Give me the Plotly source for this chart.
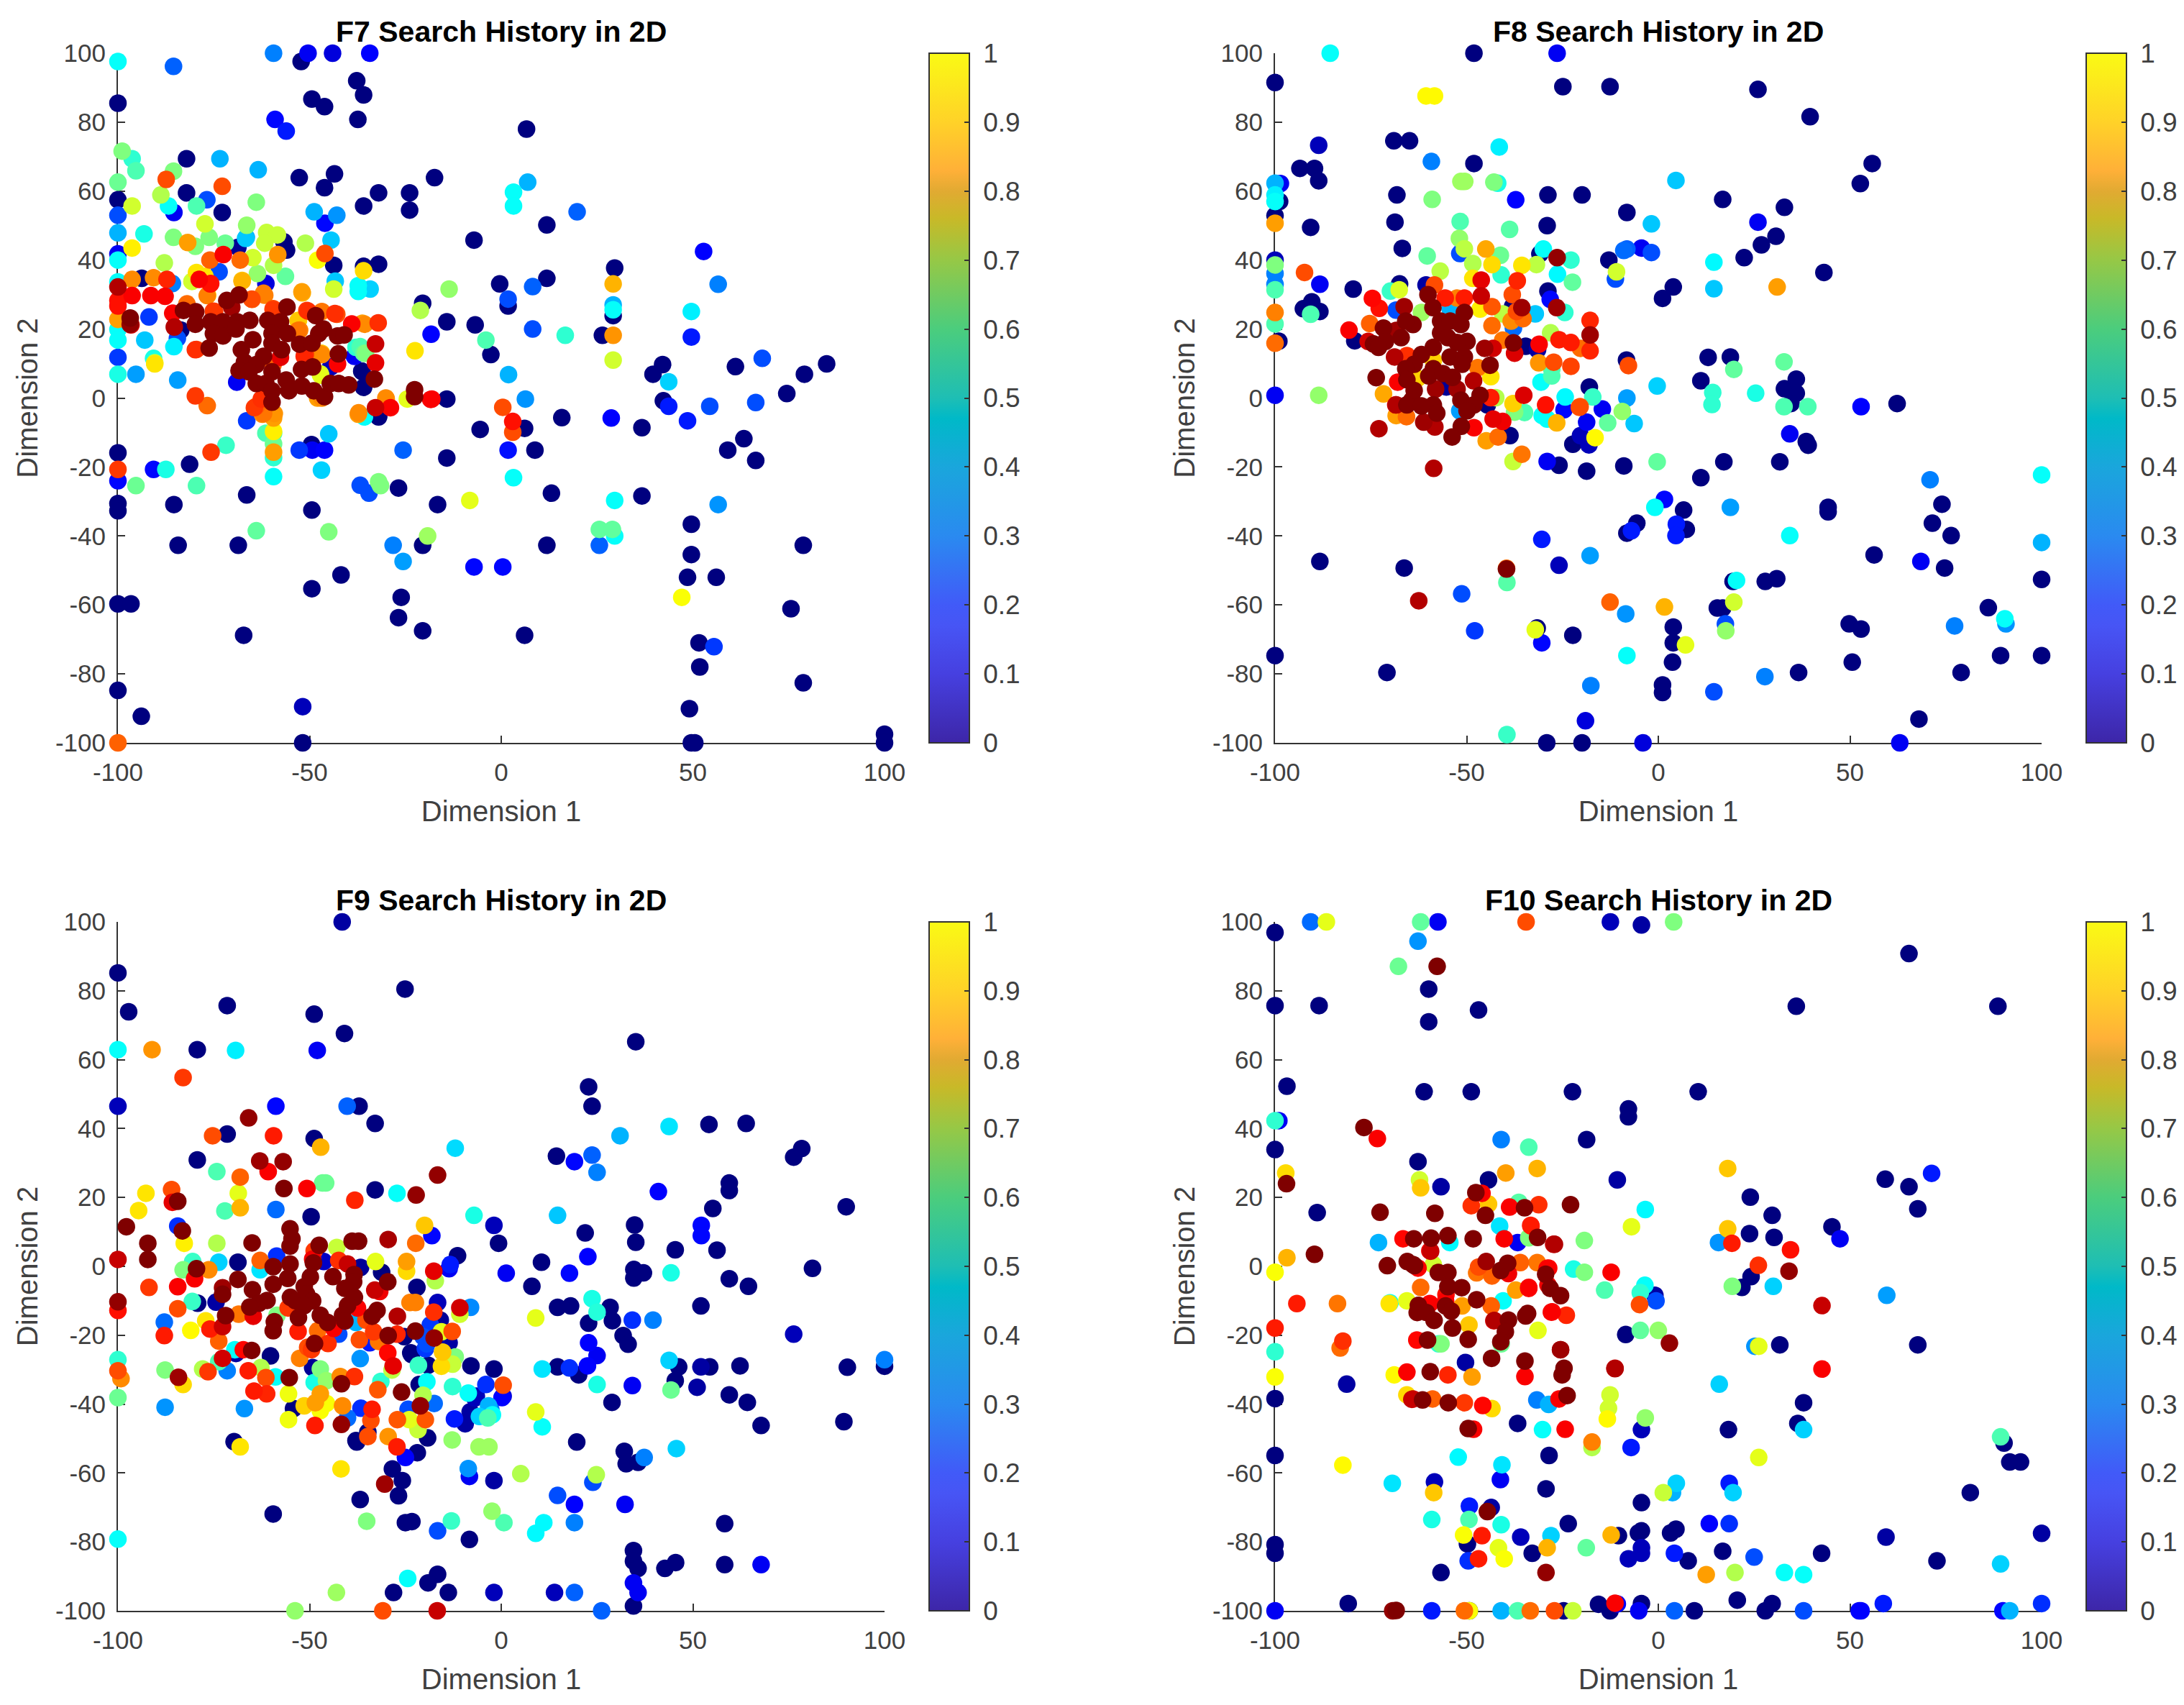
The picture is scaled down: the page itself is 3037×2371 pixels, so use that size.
import plotly.graph_objects as go

W = 3037
H = 2371

# (dimension 1, dimension 2, colour value)
F7_POINTS = [
(-52.2,97.6,0),(-37.7,92,0),(-49.4,86.7,0),(-46.1,84.5,0),(-35.9,87.9,0),(-37.4,80.8,0),(-100,85.5,0),(6.6,78,0),(-82.1,69.4,0),(-52.7,63.9,0),
(-43.5,65,0),(-17.4,63.9,0),(-46.1,61,0),(-82.1,59.5,0),(-100,57.5,0),(-32,59.5,0),(-23.9,59.5,0),(-35.9,55.7,0),(-23.9,54.5,0),(-72.8,53.8,0),
(11.9,50.2,0),(-7.1,45.8,0),(-43.7,38.5,0),(-32,38.8,0),(29.6,37.7,0),(-0.4,33.1,0),(11.9,34.7,0),(1.8,26.7,0),(-20.5,27.5,0),(-14.2,22.1,0),
(-6.8,21.2,0),(26.4,18.2,0),(29.2,23.9,0),(-2.7,12.6,0),(42.1,9.7,0),(39.6,6.9,0),(61.1,9.1,0),(84.9,9.9,0),(79.1,6.9,0),(74.5,1.3,0),
(-35.9,3.1,0),(-36.3,7.7,0),(-14.2,-0.3,0),(42.3,-0.8,0),(15.8,-5.7,0),(-5.5,-9.1,0),(6.1,-8.8,0),(36.7,-8.6,0),(-32,-5.5,0),(59.1,-15.1,0),
(63.3,-11.8,0),(66.4,-18.1,0),(8.8,-15.1,0),(-14.2,-17.4,0),(-100,-15.9,0),(-81.3,-19.2,0),(-26.8,-26.1,0),(13.1,-27.6,0),(-66.4,-28.1,0),(36.7,-28.4,0),
(-85.4,-30.9,0),(-16.6,-30.9,0),(-100,-30.6,0),(-100,-32.7,0),(-49.4,-32.5,0),(49.6,-36.6,0),(-84.3,-42.7,0),(-68.6,-42.7,0),(-20.5,-42.7,0),(11.9,-42.7,0),
(78.8,-42.7,0),(49.6,-45.4,0),(48.6,-52,0),(56.1,-52,0),(-41.8,-51.3,0),(-49.4,-55.3,0),(-26.1,-57.8,0),(-100,-59.7,0),(-96.6,-59.7,0),(75.6,-61.1,0),
(-26.8,-63.7,0),(-20.5,-67.5,0),(-67.2,-68.8,0),(6.1,-68.8,0),(51.6,-71,0),(51.8,-78,0),(78.8,-82.6,0),(-100,-84.8,0),(-93.9,-92.3,0),(49.1,-90.1,0),
(-51.8,-89.5,0.05),(49.6,-100,0),(50.5,-100,0),(-51.8,-100,0),(100,-97.5,0),(100,-100,0),(-56,42.9,0),(-56.7,45.3,0),(-68.7,43.7,0.02),(-35.9,38.2,0),
(-93.8,34.7,0),(-83.6,19.7,0),(-32,-5.2,0),(-36.4,7.8,0),(-44.5,9,0.05),(-49.5,-13.5,0),(-100,41.8,0.1),
(-50.4,100,0.1),(-44,100,0.08),(-34.3,100,0.12),(-59.4,100,0.25),(-85.5,96.2,0.22),(-59,80.8,0.13),(-56.1,77.4,0.15),(-76.8,57.5,0.2),(-85.4,53.8,0.1),(-100,53,0.2),
(19.8,54,0.22),(-46,50.7,0.13),(-42.9,53,0.27),(52.8,42.5,0.12),(56.6,33,0.25),(8.2,32.3,0.22),(1.8,28.7,0.2),(8.2,20,0.2),(-18.3,18.5,0.12),(-91.9,23.5,0.18),
(49.6,17.7,0.15),(-100,11.8,0.18),(68.1,11.5,0.2),(-95.3,6.9,0.28),(-84.4,5.2,0.28),(1.9,6.8,0.3),(-69,4.6,0.1),(6.3,-0.3,0.27),(43.7,-2.4,0.15),(54.4,-2.4,0.2),
(66.4,-1.3,0.2),(48.6,-6.6,0.15),(28.7,-5.8,0.12),(-66.4,-6.6,0.18),(-52.7,-15.1,0.18),(-49.3,-15.1,0.1),(-46.1,-15.1,0.12),(-25.6,-15.1,0.22),(1.8,-15.1,0.14),(-90.7,-20.7,0.13),
(-100,-24,0.13),(-36.8,-25.3,0.2),(-34.5,-27.6,0.2),(-28.2,-42.7,0.25),(25.6,-42.7,0.22),(-25.6,-47.4,0.28),(-7.1,-49,0.13),(0.4,-49,0.13),(55.5,-72.1,0.18),(56.6,-30.9,0.27),
(-85.8,33.2,0.25),(-73.6,36.6,0.2),(-61.4,33.2,0.08),(-66.7,46.3,0.32),(-84.5,17.3,0.2),(-38.3,12.1,0.1),
(-100,97.6,0.38),(-100,47.9,0.3),(-93.2,47.6,0.4),(-96.3,69.4,0.42),(-73.4,69.4,0.3),(-63.4,66.2,0.3),(3.2,59.7,0.38),(3.2,55.7,0.38),(6.9,62.6,0.3),(-48.8,54,0.3),
(-86.8,55.7,0.38),(-44.4,45.8,0.32),(-66.5,46.6,0.3),(-100,40,0.38),(-100,33.7,0.38),(-34.2,31.6,0.33),(-37.3,32.6,0.38),(-37.3,30.9,0.38),(-43.3,33.9,0.32),(29.2,27,0.3),
(29.2,25.6,0.38),(49.6,25.1,0.36),(-93,16.8,0.32),(-100,19.9,0.38),(-100,16.8,0.38),(-85.4,14.9,0.36),(-100,6.9,0.4),(43.7,4.7,0.33),(16.7,18.2,0.42),(-45,-10.4,0.32),
(-46.9,-20.9,0.33),(-59.4,-22.8,0.38),(3.2,-23.1,0.38),(29.6,-29.7,0.38),(29.6,-40,0.38),(-71.8,-13.7,0.43),(-87.5,-20.7,0.4),(-35.7,-5.5,0.38),(-90.7,11.5,0.4),
(-98.9,71.6,0.5),(-95.3,65.9,0.45),(-100,62.6,0.48),(-85.5,65.8,0.5),(-88.8,58.9,0.55),(-96.3,55.7,0.58),(-79.5,55.7,0.45),(-63.9,56.8,0.5),(-77.3,50.5,0.58),(-66.4,50.1,0.52),
(-85.5,46.6,0.5),(-76.2,46.6,0.5),(-79.8,44,0.5),(-72,44.9,0.48),(-87.9,39.2,0.55),(-64.8,40.7,0.58),(-51.1,44.9,0.55),(-61.2,48,0.57),(-58.4,47.3,0.57),(-61.7,44.9,0.57),
(-63.6,36.1,0.52),(-59.4,38.5,0.55),(-56.3,35.3,0.47),(-80.7,33.8,0.58),(-43.7,31.6,0.58),(-21.1,25.4,0.55),(-13.6,31.6,0.52),(-4,16.8,0.45),(-36.8,14.9,0.45),(-35.4,13,0.5),
(-47.2,7,0.58),(-90.4,10.2,0.58),(29.2,11,0.58),(-24.5,-0.3,0.6),(-59.4,-10.2,0.45),(-61.4,-10.2,0.45),(-59.4,-13.3,0.48),(-59.4,-17.3,0.42),(-32,-24.3,0.5),(-31.5,-25.4,0.5),
(-79.5,-25.4,0.45),(-95.3,-25.4,0.48),(-8.2,-29.7,0.6),(-63.9,-38.5,0.47),(-45,-38.8,0.5),(25.6,-38.1,0.47),(29,-38.1,0.47),(-19.2,-40,0.53),(-35.9,13,0.47),(-37.9,14.7,0.42),
(-47.1,6.6,0.6),(-52.9,22.5,0.65),
(-96.3,43.5,0.64),(-47.9,40,0.62),(-35.9,36.9,0.66),(-77.3,35.3,0.65),(-79.5,36.4,0.65),(-67.6,34.1,0.68),(29.2,33.1,0.7),(-51.9,30.5,0.7),(-76.6,29.8,0.66),(-90.4,9.9,0.65),
(-22.5,13.7,0.65),(47.1,-57.8,0.62),(-59.4,-9.7,0.64),(-59.4,-5.8,0.72),(-46.9,13,0.68),(-53,22.4,0.68),(-59.4,-15.7,0.72),(-37.3,-4.7,0.72),
(-100,22.8,0.72),(-96.3,34.4,0.74),(-90.7,34.9,0.74),(-81.8,45.1,0.72),(-87.4,63.4,0.8),(-72.8,61.4,0.8),(-76,40,0.78),(-68.1,40,0.77),(-58.3,41.6,0.73),(-46,41.9,0.8),
(-61.7,29.8,0.75),(-65,28.6,0.78),(-79.5,14.1,0.8),(-79.8,0.6,0.82),(-76.7,-2.2,0.77),(-63.9,-2.4,0.78),(-62.3,-4.7,0.74),(-30,-0.3,0.73),(-46.8,0,0.74),(-36.2,21.7,0.72),
(0.4,-2.7,0.8),(3,-9.9,0.8),(29.2,18.2,0.73),(-100,-100,0.78),(-46.8,25.1,0.76),(-42.9,24.3,0.8),(-59.5,25.9,0.8),(-74.8,25.1,0.82),(-50.7,25.4,0.82),(-53,19.6,0.76),
(-51.1,12.6,0.82),(-46.8,12.6,0.74),(-32.1,21.8,0.83),(-43.4,24.5,0.83),(-50.4,25.2,0.83),(-59.5,25.6,0.82),(-35.6,21.4,0.74),(-79.8,14,0.83),(-65.1,28.7,0.8),(-62,30.4,0.75),
(-52,30.8,0.72),(-67.6,33.9,0.7),(-76.7,29.7,0.75),(-82,27.3,0.77),(-75.1,25.2,0.82),(-52.6,19.7,0.75),(-47.3,12.8,0.73),(-51.4,12.1,0.84),(-59.5,9.7,0.78),(-64.4,-2.8,0.82),
(-62,-4.5,0.76),(-59.2,-4.5,0.73),(-62.6,-0.3,0.83),(-47.9,0,0.72),(-37.2,-4.3,0.74),(-30.1,0,0.74),
(-87.2,34.4,0.84),(-75.9,33.1,0.86),(-100,28.3,0.86),(-100,26.7,0.86),(-96.3,29.7,0.88),(-91.4,29.7,0.88),(-87.7,29.5,0.88),(-78.8,34.4,0.88),(-72.5,41.6,0.88),(-100,-20.7,0.82),
(-75.7,-15.7,0.82),(-39,21.5,0.88),(-18.1,-0.3,0.88),(-28.9,-2.8,0.88),(3,-6.8,0.86),(-32.8,10.2,0.9),(-42.7,9.9,0.88),(-85.7,24.6,0.88),(-96.6,21.2,0.92),(-100,32.2,0.95),
(-57.6,11.8,0.9),(-75.8,33.2,0.85),(-18.4,-0.4,0.88),
(-71.6,28.3,1),(-68.4,29.9,1),(-70.3,26.3,0.97),(-55.9,26.4,1),(-48.4,23.9,1),(-82.9,25.4,1),(-79.7,25,1),(-79.8,21.4,1),(-85.3,20.6,0.95),(-96.8,23.2,1),
(-96.8,21.4,0.98),(-75.8,22.1,1),(-72.6,22.1,1),(-68.9,22.1,1),(-65.6,22.5,1),(-60.9,22.5,1),(-57.6,22.1,1),(-75.1,18.7,1),(-72.6,18,1),(-69.2,20,1),
(-76.2,14.5,1),(-64.8,16.9,1),(-59.8,18.7,1),(-55.8,18.7,1),(-67.8,14,1),(-59.8,15.9,1),(-57.3,14,1),(-52.6,15.6,1),(-49.4,15.9,1),(-47.6,18.7,1),
(-46.4,20,1),(-42.7,18,1),(-41,18.3,1),(-42.5,12.8,1),(-32.8,15.7,0.93),(-62,12.1,1),(-67,10.4,1),(-63.9,9.7,1),(-68.4,8,1),(-65.8,7.6,1),
(-63.9,4.2,1),(-61.4,4.2,1),(-59.8,7.6,1),(-59.8,2.1,1),(-52.1,8.3,1),(-49.2,9,1),(-56.1,5.2,1),(-55.4,2.1,1),(-52,3.5,1),(-48.9,2.1,1),
(-46.1,0.4,1),(-44.6,4.2,1),(-42.4,4.2,1),(-39.8,3.8,1),(-59.8,-1.2,1),(-33.1,5.5,1),(-22.6,2.4,1),(-22.6,0.4,1),(-32.8,-2.8,0.93),
]

F8_POINTS = [
(-48.1,100,0),(-100,91.5,0),(-24.9,90.3,0),(-12.6,90.3,0),(26,89.5,0),(39.6,81.6,0),(-88.6,73.3,0.05),(-69,74.6,0),(-64.9,74.6,0),(-48.1,68,0),
(55.8,68,0),(-93.5,66.6,0),(-89.7,66.6,0),(-88.6,63,0),(52.7,62.2,0),(-98.6,62.2,0.1),(-68.2,58.9,0),(-28.8,58.9,0),(-19.9,58.9,0),(16.8,57.6,0),
(-98.8,57,0),(32.9,55.3,0),(-8.2,53.8,0),(-100,52.9,0),(-90.7,49.5,0),(26,51,0.1),(30.7,46.9,0),(26.9,44.4,0),(22.4,40.7,0),(-100,40,0.05),
(43.2,36.4,0),(1.1,28.9,0),(3.9,32.2,0),(-88.3,33,0.1),(-90.4,27.9,0),(-88.3,25.1,0),(-92.6,25.9,0),(-99,16.5,0),(13,11.8,0),(18.8,11.9,0),
(11.1,5,0),(36,5.5,0),(32.9,2.7,0),(36,1.4,0),(62.3,-1.6,0),(-8.3,11,0),(34.6,-1.6,0),(38.6,-12.6,0),(39.1,-13.7,0),(17.1,-18.5,0),
(31.7,-18.5,0),(11.1,-23.1,0),(74,-30.8,0),(44.3,-31.7,0),(44.3,-33,0),(6.6,-32.5,0),(-5.6,-36.3,0),(71.5,-36.3,0),(7.3,-38.1,0),(-8.2,-39.2,0),
(76.4,-39.9,0),(56.3,-45.5,0),(-88.3,-47.4,0),(-66.3,-49.3,0),(-25.9,-48.5,0.05),(74.7,-49.3,0),(100,-52.6,0),(19.5,-53.2,0),(27.9,-53.2,0),(30.9,-52.4,0),
(15.4,-60.9,0),(16.8,-60.9,0),(86.1,-60.8,0),(49.8,-65.5,0),(52.9,-67,0),(3.9,-66.4,0),(-31.6,-66.7,0),(-22.3,-68.8,0),(3.9,-71,0),(-100,-74.7,0),
(50.6,-76.6,0),(3.7,-76.6,0),(89.3,-74.7,0),(100,-74.7,0),(-70.8,-79.6,0),(36.6,-79.6,0),(79,-79.6,0),(1.1,-83.2,0),(1.1,-85.4,0),(68,-93.1,0),
(-19,-93.6,0.08),(-29.1,-100,0),(-19.9,-100,0),(-4,-100,0.08),(63,-100,0.1),(68.5,-47.4,0.1),
(-68.7,51,0),(-29,50,0),(-66.8,43.4,0),(-79.6,31.6,0),(-79.2,16.6,0),(-67.5,33.1,0),(-60.6,32.8,0.03),(-34.6,15,0),(-31.5,14,0.03),(-28.8,31,0),
(-12.9,40,0),(-18,3.2,0),(-38.7,-10.9,0),(-22.3,-13.4,0),(-20.3,-10.9,0.05),(-18.1,-13.6,0.05),(-25.9,-19.5,0),(-18.7,-21.2,0),(-9,-19.7,0),(-44.6,-2,0),
(-30.9,41.8,0),(-38,26.6,0),(-55.3,3.2,0.02),
(-26.4,100,0.1),(-37.2,57.5,0.12),(-8.2,43.2,0.22),(-4.4,43.5,0.1),(-1.8,42.2,0.2),(-100,33,0.25),(-100,36.1,0.25),(-100,0.8,0.1),(34.3,-10.4,0.1),(52.9,-2.5,0.12),
(1.6,-29.4,0.13),(4.7,-36.6,0.15),(4.6,-39.9,0.15),(-7,-38.5,0.15),(-30.4,-41,0.15),(18.8,-31.7,0.28),(100,-41.9,0.3),(70.9,-23.7,0.25),(-17.8,-45.7,0.28),(-51.3,-56.8,0.2),
(-8.5,-62.6,0.27),(-47.9,-67.5,0.18),(-30.4,-71,0.13),(17.5,-65.5,0.2),(77.3,-66.1,0.25),(90.7,-65.5,0.27),(27.8,-80.8,0.25),(-17.6,-83.4,0.25),(14.5,-85.2,0.2),(-59.2,68.6,0.25),
(-51.8,41.9,0.2),(-28.2,28.6,0.13),(-68.4,25.5,0.2),(-37.8,20.3,0.23),(-11.2,34.5,0.2),(-9,42.8,0.23),(-24.6,-3.4,0.13),(-14.6,-3.2,0.1),(-18.7,-7,0.1),(-51.8,-3.7,0.28),
(-29,-18.4,0.1),(-8.2,0,0.28),(-32.1,24.4,0.32),(-54.3,25.8,0.3),
(-85.6,100,0.38),(-100,62.3,0.3),(-100,58.9,0.36),(-100,57,0.38),(-41.5,72.8,0.36),(4.6,63.1,0.32),(-1.8,50.5,0.32),(-41.9,62.3,0.4),(14.5,39.4,0.37),(14.5,31.7,0.32),
(-0.3,3.5,0.33),(14.2,1.6,0.42),(14,-1.9,0.42),(25.4,1.4,0.4),(32.8,-2.5,0.45),(39,-2.5,0.45),(-6.3,-7.4,0.32),(100,-22.3,0.38),(-0.9,-31.7,0.38),(34.3,-39.9,0.38),
(20.4,-52.9,0.38),(90.4,-64,0.38),(-8.2,-74.7,0.38),(-30,43.2,0.38),(-41,35.7,0.42),(-26.3,35.9,0.37),(-22.8,40,0.42),(-24.4,24.8,0.42),(-69.9,31,0.43),(-30.6,4.6,0.38),
(-24.3,0.3,0.37),(-17.1,0.3,0.43),(-30.3,-5.1,0.38),(-29,-6.1,0.38),
(-51.5,62.8,0.53),(-50.5,62.8,0.53),(-42.9,62.6,0.5),(-59,57.6,0.5),(-100,38.6,0.5),(-100,31.4,0.45),(-100,21.5,0.45),(-90.7,24.3,0.45),(32.8,10.5,0.47),(19.7,8.3,0.47),
(-88.6,0.8,0.52),(-39.5,-53.5,0.46),(-39.5,-97.6,0.43),(19.7,-59.2,0.58),(17.6,-67.5,0.52),(-32.1,-67.2,0.6),(7.1,-71.6,0.6),(-0.3,-18.5,0.47),(-9.4,-3.9,0.52),(-13.2,-7.2,0.47),
(-60.3,41.2,0.47),(-56.9,36.8,0.56),(-48.4,39,0.55),(-50.6,43.3,0.56),(-51.9,46.3,0.52),(-51.7,51.2,0.45),(-38.8,48.9,0.46),(-41.2,41.4,0.48),(-31.8,38.7,0.56),(-40.6,24.4,0.56),
(-61.8,24.8,0.53),(-22.4,33.6,0.47),(-10.9,36.6,0.58),(-28.1,18.9,0.55),(-27.8,8.4,0.45),(-27.8,6.4,0.45),(-37.5,-4.1,0.5),(-34.9,-4.2,0.45),(-37.9,-18.4,0.57),(-42.4,0.1,0.55),
(-60.6,87.6,0.63),(-58.4,87.6,0.63),(-100,50.7,0.72),(31,32.2,0.72),(-100,24.8,0.75),(-100,15.9,0.77),(1.6,-60.6,0.7),(-67.6,31.4,0.59),
(-43.4,38.7,0.66),(-35.6,38.5,0.65),(-48.4,34.7,0.65),(-46.5,25.8,0.64),(-43.7,6.2,0.65),(-16.5,-11.5,0.63),(-58.7,10.9,0.67),(-62.8,5.7,0.67),
(-92.3,36.4,0.8),(-7.8,9.4,0.8),(-20.6,-2.7,0.8),(-12.6,-59.2,0.78),(-39.6,-49.4,0.77),
(-75.3,21.6,0.78),(-58.4,32.8,0.8),(-52.5,29,0.75),(-43.4,26.5,0.79),(-43.4,21,0.77),(-38.1,30,0.8),(-37,25.1,0.8),(-38.4,22.3,0.74),(-35.3,23,0.77),(-31.2,10.2,0.73),
(-27.3,10.4,0.8),(-22.8,9.2,0.81),(-20.3,14.4,0.77),(-40.6,16.8,0.76),(-47.1,8.8,0.76),(-65.6,12.3,0.83),(-20.4,-2.5,0.79),(-41.8,-11.3,0.77),(-35.6,-16.3,0.76),(-44.9,-12.4,0.72),
(-68.4,-5.1,0.72),(-65.7,-5.4,0.77),(-45,43.2,0.71),(-71.7,1.2,0.71),(-37.9,-1.6,0.67),(-26.5,-7.2,0.7),
(-80.7,19.7,0.88),(-75.7,16.4,0.92),(-74.6,28.9,0.87),(-72.8,26,0.86),(-46.2,34.2,0.9),(-46.2,29.6,0.93),(-36.8,34,0.84),(-50.6,29,0.85),(-55.6,29,0.85),(-31.1,15.6,0.88),
(-25.9,16.9,0.85),(-22.8,16.1,0.85),(-17.8,22.5,0.84),(-17.8,13.7,0.84),(-37.5,13,0.91),(-43.1,14.4,0.92),(-35.1,0.8,0.91),(-29.4,-2,0.86),(-43.1,-6.1,0.9),(-40.6,-6.8,0.89),
(-48.1,-8.6,0.88),(-43.7,0.1,0.85),(-68,4.6,0.88),(-68.5,-2,0.9),
(-26.4,40.7,0.98),(-35.6,26.2,0.97),(-26.5,26.2,0.97),(-17.8,18.3,0.97),(-60.1,30,1),(-58.8,26.2,1),(-66.3,26.5,0.97),(-50.6,24.8,1),(-56.8,22.3,1),(-54.3,22.3,1),
(-51.5,21.3,1),(-64,21.3,1),(-65.9,22.3,1),(-71.7,20.3,1),(-68.4,19.6,0.97),(-67.1,17.5,1),(-71.2,16.4,1),(-74.3,15.7,1),(-73,14.7,1),(-56.8,18.9,1),
(-54.9,17.5,1),(-49.9,16.4,1),(-52.5,16.1,1),(-58.7,14.7,1),(-61.8,12.6,1),(-54.3,11.9,1),(-50.6,11.9,1),(-51.2,9.8,1),(-63.7,9.8,1),(-65.9,8.5,1),
(-68.8,11.9,0.95),(-45.3,14.4,0.97),(-37.8,16,1),(-43.9,9.5,1),(-58.7,8.5,1),(-59.9,6.4,1),(-56.2,7.1,1),(-53.7,6,1),(-65.6,5.3,1),(-73.6,5.9,1),
(-48.2,5,0.95),(-52.5,2.6,0.97),(-58.1,2.6,0.97),(-63.7,2.2,1),(-46.5,0.8,1),(-51.5,-0.6,1),(-48.1,-2,1),(-49.9,-3.7,1),(-64.3,-0.6,1),(-65.6,-2,1),
(-68.4,-2,0.95),(-61.8,-2.3,1),(-58.7,-2,1),(-57.8,-4.4,1),(-61.2,-7,0.97),(-58.3,-8.4,0.95),(-51.4,-8.2,1),(-53.8,-11.3,1),(-72.9,-8.9,0.95),(-58.6,-20.4,0.95),
(-39.6,-49.6,1),(-62.5,-58.8,0.95),
]

F9_POINTS = [
(-41.5,100,0.03),(-100,85.2,0),(-97.2,73.9,0),(-71.5,75.7,0),(-25.1,80.5,0),(-48.8,73.2,0),(-40.9,67.6,0),(-79.3,62.9,0),(35.1,65.2,0),(-100,46.5,0.05),
(-37.1,46.5,0),(22.8,52.1,0),(23.7,46.5,0),(-32.9,41.5,0),(54.2,41.2,0),(63.9,41.5,0),(-71.5,38.4,0),(-48.8,37.1,0),(-79.3,30.9,0),(14.4,32,0),
(76.3,31.7,0),(78.4,34.2,0),(59.5,24.2,0),(59.5,22,0),(55.2,16.8,0),(90,17.3,0),(-32.9,22.2,0),(-49.6,14.4,0),(-1.9,11.9,0.05),(-0.7,6.7,0),
(34.8,12,0),(35.1,7,0),(21.9,9.7,0),(45.4,4.8,0),(56.3,4.7,0),(10.5,1.2,0),(-11.4,3.1,0),(-68.7,1.2,0),(81.2,-0.6,0),(34.6,-0.9,0),
(34.6,-3.4,0),(37.1,-1.9,0),(59.5,-3.6,0),(64.5,-5.8,0),(8,-5.8,0),(-22,-6.1,0),(52.1,-11.5,0),(14.7,-11.9,0),(18.1,-11.5,0),(28.4,-11.9,0),
(29,-15.8,0),(22.8,-16.5,0),(-16.6,-10.5,0.05),(31.8,-20.1,0),(33.1,-22.6,0),(76.3,-19.7,0.05),(-23.4,-25.6,0),(14.7,-29.2,0),(20.2,-31.5,0),(-7.9,-28.9,0),
(-1.9,-29.8,0),(46.3,-29.2,0),(52.1,-29.2,0.03),(54.4,-29.2,0),(62.3,-28.9,0),(90.3,-29.3,0),(100,-29,0),(45.4,-33.2,0),(51.1,-35.1,0.03),(59.5,-37.3,0),
(64.2,-39.5,0),(28.9,-39.5,0),(-6.9,-38.2,0.05),(-54.2,-41.3,0),(-60.2,-26,0),(89.4,-45.1,0),(67.8,-46.2,0),(19.7,-51,0),(32.1,-53.7,0),(32.6,-57.3,0),
(35.7,-56.9,0),(-21.9,-54.1,0),(-19.2,-49.8,0),(-37.7,-51,0),(-69.7,-50.9,0),(-28.4,-58.8,0),(-25.8,-62.2,0),(-36.8,-67.7,0),(-26.8,-66.6,0),(-59.5,-71.9,0),
(58.3,-74.7,0),(-25,-74.4,0),(-23.3,-74.1,0),(-8.3,-79.3,0),(34.5,-82.5,0),(34.5,-85.6,0),(35.7,-87.7,0),(42.7,-87.7,0),(45.5,-86,0),(58.3,-86.6,0),
(-16.6,-89.4,0),(-19.1,-91.9,0),(-28.1,-94.7,0),(-13.8,-94.7,0),(-1.9,-94.7,0.05),(13.9,-94.7,0.05),(34.5,-98.6,0),(-1.9,-62.2,0.03),
(-79.2,-10.7,0),(-74.4,-10.4,0.03),(-46.3,1.4,0.06),(-36.7,-0.3,0.02),(-31.2,-1.7,0),(-15.9,-15.6,0.02),(-25.3,-20.4,0),(-23.6,-25.1,0),(-19.1,-28.7,0),(-13.6,-22.2,0.03),
(-49.2,-29.4,0.02),(-69.2,-25.3,0.03),(-21.4,-34.3,0),(-37.9,-50.6,0),(-34.8,-48.1,0),(-8.1,-42.2,0.03),(-9.4,-45.7,0.03),(-6.5,-37.7,0.05),
(-48,62.7,0.1),(-58.8,46.5,0.13),(-40.2,46.5,0.22),(19.1,30.4,0.13),(23.7,32.3,0.22),(25,27.3,0.25),(41,21.7,0.12),(-58.8,16.5,0.23),(-84.4,11.7,0.17),(-18.1,8.9,0.13),
(52.2,11.9,0.13),(52.2,8.9,0.13),(22.6,2.8,0.12),(1.3,-2,0.1),(17.8,-2,0.13),(-13.3,0.5,0.15),(-13.6,-0.7,0.1),(-58.6,3,0.17),(34.2,-15.6,0.17),(39.6,-15.6,0.25),
(-8,-11.9,0.26),(25,-25.9,0.1),(22.5,-28.9,0.12),(17.8,-29.5,0.17),(22.8,-22.2,0.12),(34.2,-34.6,0.1),(-4,-34.3,0.17),(0.2,-38.1,0.12),(-36.8,-26.8,0.27),(-87.9,-16.2,0.23),
(-87.7,-40.9,0.27),(-67,-41.3,0.27),(-71.5,-30.3,0.25),(-2.7,-41.7,0.23),(-12.2,-44.3,0.15),(-8.6,-58.7,0.27),(-8.3,-61,0.1),(23.9,-62.7,0.2),(37.3,-55.5,0.25),(-25,-55.5,0.12),
(14.7,-66.5,0.2),(19.1,-69.1,0.12),(19.1,-74.4,0.25),(32.3,-69.1,0.1),(-16.6,-76.8,0.2),(67.8,-86.6,0.1),(19.1,-94.7,0.22),(26.2,-100,0.22),(34.5,-91.9,0.1),(35.7,-94.7,0.1),
(100,-27.1,0.25),(31,37.9,0.3),(-19.8,-23.9,0.18),(-20.4,-20.4,0.2),(-18.5,-17,0.18),(-19.4,-22.5,0.2),(-42.4,-19.7,0.2),(-34.3,-22.2,0.15),(-17.5,-39.8,0.23),(-24.3,-41.5,0.2),
(-40.1,-44,0.23),(-36.6,-41.2,0.17),(0.5,-37.7,0.08),(-73.7,1.2,0.33),(-62.9,-1,0.35),(-37.9,-16.3,0.3),(-5.7,-43.6,0.33),(-3.3,-40.5,0.3),
(-12,34.3,0.34),(14.7,14.8,0.32),(43.8,40.6,0.35),(45.7,-52.9,0.33),(-100,62.9,0.38),(-69.3,62.7,0.36),(-27.2,21.2,0.38),(-7.1,14.8,0.4),(44.3,-1.9,0.4),(23.7,-9.4,0.4),
(25,-13.3,0.41),(25,-34.3,0.4),(10.7,-29.8,0.35),(43.8,-27.3,0.33),(10.7,-46.6,0.38),(11.1,-74.4,0.37),(9,-77.5,0.37),(-100,-79.2,0.38),(-100,-27.1,0.42),(-24.4,-90.6,0.38),
(0.7,-74.4,0.45),(-13,-73.9,0.43),(-12.7,-34.9,0.42),(-8.6,-36.8,0.38),(-21.6,-28.7,0.43),(-19.4,-33.5,0.38),(-80.5,1.4,0.43),(-80.6,-10.2,0.43),(-69.5,-24.2,0.38),(-58.9,-32.1,0.38),
(-48.8,-33.7,0.4),(-31.4,-33.4,0.42),(-2.3,-43.1,0.38),(-73.7,-27.7,0.45),
(-74.2,27.5,0.45),(-72.1,16.1,0.45),(-46.6,24.2,0.48),(-45.8,24.2,0.48),(-100,-38.1,0.48),(-87.7,-30.1,0.5),(-35.1,-74,0.5),(-2.4,-71.1,0.52),(-12.8,-50.4,0.52),(-5.8,-52.4,0.53),
(-3.2,-52.4,0.53),(-3.5,-44,0.45),(5.1,-60.2,0.55),(24.8,-60.5,0.55),(44.3,-35.9,0.48),(-53.8,-100,0.52),(-43,-94.7,0.53),(-74.2,6.7,0.55),(-68.6,21.2,0.6),(-10.8,-13.9,0.58),
(9,-15,0.6),(-42.9,5.5,0.57),(-32.8,1.4,0.6),(-83,-1,0.5),(-58.5,-14.2,0.5),(-45.6,-33.2,0.52),(-47.2,-29.8,0.5),(-12,-26.3,0.5),(-77.9,-29.8,0.55),(-62.7,-29.4,0.55),
(-20.4,-37.4,0.55),(-12.7,-28.4,0.57),(-28.5,-30.1,0.56),(-17.2,-4.2,0.55),(-21.7,-47.4,0.57),
(-92.7,21.2,0.65),(-94.6,16.2,0.65),(-68.1,17,0.7),(-91.1,62.9,0.73),(-47.1,34.6,0.7),(-20,11.9,0.68),(-82.7,6.7,0.64),(-24.7,-1.4,0.66),(-24.7,1.4,0.72),(-77.1,-15.8,0.65),
(-81,-18.6,0.63),(-68.1,-52.4,0.65),(9,-42.3,0.6),(-41.8,-58.8,0.65),(-83,-34.3,0.66),(-15.3,-24.9,0.68),(-15.6,-29,0.66),(-51.4,-40.5,0.67),(-47.2,-37,0.72),(-55.5,-37,0.61),
(-55.5,-44.5,0.61),(-47.2,-41.9,0.62),(-45.6,-39.8,0.62),(-24,-44.5,0.6),(-15.6,-19,0.6),
(-83,54.8,0.82),(-75.3,37.9,0.8),(-59.4,37.9,0.85),(-68.1,25.9,0.78),(-86,22.3,0.8),(-38.2,19.2,0.84),(-91.9,-6.1,0.82),(0.5,-34.5,0.8),(-100,-30.3,0.8),(-99.2,-32.6,0.74),
(-22.3,6.7,0.77),(-76.5,-30.6,0.82),(-87.9,-20.1,0.85),(-12.8,-18.9,0.8),(-100,-12.8,0.86),(-84.4,-12.3,0.8),(-62.9,1.7,0.78),(-76.3,-1,0.74),(-68.5,-13.9,0.76),(-23.8,-10.5,0.75),
(-22.4,-10.5,0.75),(-17.6,-13.3,0.83),(-33.3,-19,0.82),(-35.3,-15.6,0.8),(-47.9,-18.7,0.77),(-53,-18.9,0.85),(-55.6,-12.1,0.82),(-48.8,4.5,0.82),(-42.4,1.7,0.83),(-37,-21.3,0.8),
(-32,-21.8,0.76),(-45.2,-22.4,0.83),(-49.5,-24.2,0.82),(-50.5,-23.5,0.8),(-52.6,-26.7,0.75),(-73.7,-21.7,0.78),(-61.4,-32.3,0.8),(-66,-30.3,0.85),(-64.5,-36.2,0.85),(-61.2,-37,0.84),
(-48.6,-46.2,0.85),(-38.3,-32,0.83),(-42,-32,0.74),(-48.5,-39.6,0.72),(-41.4,-40.5,0.74),(-34,-44.7,0.8),(-32.2,-35.8,0.79),(-27.1,-44.5,0.79),(-19.8,-44.5,0.79),(-34.8,-49.4,0.8),
(-29.5,-49.4,0.73),(-30.9,-100,0.8),
(-60.8,27.5,0.88),(-50.7,22.6,0.88),(-85.8,18.6,0.9),(-100,2,0.93),(-10.8,-12,0.92),(-16.7,-100,0.93),(-84.4,-5.9,0.88),(-80,-3.6,0.88),(-64.7,-14.5,0.9),(-31.7,-7.3,0.89),
(-29.6,-25.1,0.87),(-28.2,-28.9,0.9),(-27.2,-52.4,0.85),(-43.7,-18,0.88),(-37.5,-12.1,0.88),(-49.2,2.1,0.89),(-67.3,-24.2,0.87),(-76,-18.2,0.85),(-33.7,-41.5,0.85),(-27.2,-19.7,0.84),
(-63,30.6,0.97),(-56.9,30.4,0.98),(-65.9,43.1,0.98),(-16.6,26.5,0.98),(-22.2,20.7,0.98),(-84.4,18.9,1),(-97.8,11.5,1),(-92.2,6.7,1),(-92.2,2,1),(-100,-10.3,0.98),
(-83.2,10.3,1),(-56.7,22.6,1),(-55.1,10.9,1),(-54.6,8,1),(-55.1,5.9,1),(-65,6.8,1),(-47.5,6.1,1),(-38.9,7.3,1),(-37.2,7.3,1),(-29.5,7.8,0.96),
(-40.1,0.7,0.93),(-49,1,1),(-55.1,0.7,1),(-59.5,-0.1,1),(-79.5,-0.7,1),(-68.7,-3.8,1),(-72.7,-6.2,0.97),(-72.7,-8.1,1),(-64.9,-6.8,1),(-43.9,-3,1),
(-38.4,-2.4,1),(-38.5,-4.5,1),(-40.8,-6.4,1),(-29.6,-4.5,1),(-33,-6.9,0.93),(-55.7,-3.5,1),(-59.5,-5.2,1),(-49.8,-3.1,1),(-51.4,-5.9,1),(-55,-9,1),
(-53.7,-10,1),(-50.8,-8,1),(-49.2,-10,1),(-51.4,-11.4,1),(-61.1,-9.9,1),(-63.2,-10.7,1),(-65.6,-11.8,1),(-38.3,-9,1),(-40.1,-11.4,1),(-32.4,-12.8,1),
(-33.7,-14.5,1),(-52.9,-14.9,1),(-47.2,-14.2,1),(-45.3,-16.3,1),(-41.4,-14.2,1),(-40.8,-15.9,1),(-27.1,-14.5,0.95),(-71.9,-14.3,1),(-72.7,-17.5,0.93),(-59.2,-16.1,1),
(-59.5,-18.7,1),(-29.5,-20.1,1),(-22.4,-18.8,1),(-17.5,-20.8,0.98),(-48.7,-22.4,1),(-17.6,-1.4,0.9),(-65.1,-24.4,1),(-72.7,-26.7,0.92),(-84.2,-32.2,0.97),(-55.3,-32.3,1),
(-41.7,-34.1,1),(-26,-36.5,1),(-21.1,-40.5,0.98),(-41.7,-45.9,0.98),(-30.4,-63.2,0.97),
]

F10_POINTS = [
(-12.5,100,0.05),(-100,96.9,0),(-4.4,99.1,0.03),(65.4,90.8,0),(-59.9,80.5,0),(-100,75.7,0),(-88.5,75.7,0),(-46.9,74.4,0),(-59.9,71,0),(36,75.5,0),
(88.6,75.5,0),(-96.9,52.3,0),(-61.1,50.7,0),(-48.8,50.7,0),(-22.4,50.7,0),(10.4,50.7,0),(-7.8,45.7,0),(-7.8,43.4,0),(-99,42.3,0.1),(-18.7,36.8,0),
(-100,33.9,0),(-62.7,30.4,0),(-10.7,25.1,0.03),(-56.7,23.1,0.03),(-44.3,25.1,0),(-89,15.6,0),(24,20.1,0),(29.7,14.8,0),(59.2,25.3,0),(65.4,23.1,0),
(67.7,16.7,0),(45.3,11.5,0),(23.8,9.5,0),(30.2,8.4,0),(24.2,-3,0),(21.8,-6.1,0),(-0.9,-8.4,0.03),(-8.5,-19.8,0),(31.7,-22.8,0),(67.7,-22.8,0),
(-81.3,-34.2,0.03),(-100,-38.4,0),(37.9,-39.6,0),(-36.7,-45.6,0),(36.4,-45.6,0),(18.3,-47.4,0),(-4.4,-47.4,0.05),(90.2,-51.3,0),(91.7,-56.8,0),(94.5,-56.8,0),
(-100,-54.9,0),(-28.5,-54.9,0),(-58.4,-62.6,0.05),(-29.3,-64.6,0),(81.4,-65.7,0),(-4.4,-68.6,0),(-43.6,-70,0.03),(-23.5,-74.7,0),(100,-77.5,0.03),(-4.4,-76.8,0),
(-5.2,-77.4,0),(3.2,-77.4,0),(4.6,-76.3,0),(-10.4,-78.2,0),(59.4,-78.6,0.03),(-35.9,-78.6,0.05),(-100,-80.8,0),(-100,-83.3,0),(-49.8,-80.6,0),(16.8,-82.7,0),
(42.6,-83.3,0),(-32.9,-83.3,0),(-4.4,-81.7,0.05),(-4.4,-83.3,0.05),(-7.8,-84.9,0.05),(7.8,-85.5,0),(72.7,-85.5,0),(-56.7,-88.9,0),(20.6,-96.9,0),(-80.9,-97.9,0),
(29.7,-97.9,0),(-15.6,-98.1,0),(-12.6,-100,0),(-4.4,-97.9,0),(9.4,-100,0),(27.9,-100,0),(-49.3,-100,0),(-24.7,-100,0),(-50.3,-27.9,0.03),
(-90.7,100,0.23),(-57.5,100,0.1),(-62.7,94.4,0.27),(-41,36.8,0.25),(71.3,27,0.15),(47.4,8,0.1),(-36.7,6.9,0.1),(15.7,6.9,0.27),(-73,6.9,0.3),(-0.6,-10,0.2),
(59.6,-8.4,0.28),(25.2,-23.2,0.27),(15.9,-34.2,0.33),(-31.7,-38.8,0.25),(-28.6,-40.1,0.3),(-7.1,-52.6,0.15),(-41.2,-61.9,0.1),(18.5,-63,0.15),(19.5,-65.7,0.33),(3.7,-65.7,0.3),
(4.7,-63,0.33),(-69.4,-63,0.35),(-40.8,-57.6,0.35),(-52.2,-55.4,0.37),(-49.3,-69.6,0.15),(13.3,-74.7,0.12),(18.5,-74.7,0.17),(4.2,-83.3,0.15),(25,-84.4,0.2),(-49.6,-85.5,0.17),
(89.3,-86.4,0.33),(32.9,-88.9,0.38),(37.9,-89.5,0.38),(58.7,-97.9,0.15),(100,-97.9,0.17),(-100,-100,0.1),(-59.1,-100,0.15),(-41,-100,0.3),(-5.1,-100,0.1),(4.2,-100,0.22),
(37.9,-100,0.2),(52.4,-100,0.12),(52.9,-100,0.12),(89.9,-100,0.13),(91.7,-100,0.3),(-28,-78.2,0.33),(-41,-75,0.4),(-59.1,-73.5,0.4),(-4.7,-7.6,0.42),(-3.5,-5.5,0.38),
(30,-5.8,0.33),(-100,-24.8,0.42),(-3.4,16.5,0.37),(-22.1,-0.8,0.4),(-54.4,6.9,0.37),(-41.4,11.7,0.35),(-40.5,-10,0.38),(-30.2,-47.4,0.38),(37.9,-47.4,0.33),(-100,42.3,0.42),
(-10.7,-98,0.1),(-70,-10.6,0.38),(-57.3,-22.5,0.42),
(-62,100,0.47),(4,100,0.5),(-67.8,87.1,0.48),(-33.8,34.6,0.45),(-36.4,18.6,0.46),(-19.3,7.5,0.5),(-33.8,8.3,0.5),(-58.7,0.5,0.58),(-19.3,-1.7,0.5),(-14,-6.9,0.45),
(19.3,-5.8,0.5),(-4.7,-18.6,0.47),(0,-18.6,0.52),(-56.7,-22.5,0.5),(-41,-22.5,0.48),(-3.4,-44,0.52),(89.3,-49.5,0.45),(-18.8,-81.7,0.47),(20,-88.9,0.55),(-49.4,-73.5,0.45),
(-36.7,-100,0.45),(-22.3,-100,0.57),(1.3,-65.7,0.57),(-86.6,100,0.6),
(-7,11.5,0.6),(26.2,-23.2,0.6),(26.2,-55.5,0.6),(-31.4,-18.6,0.6),(-65.6,-10,0.6),(-100,-1.7,0.62),(-100,-32.1,0.62),(-82.3,-57.7,0.63),(-68.9,-31.5,0.63),(-12.6,-37.3,0.58),
(-13,-41.2,0.58),(-13.3,-44.3,0.63),(-17.3,-52.6,0.55),(-50.8,-78,0.62),(-41.7,-81.7,0.6),(-40.2,-84.9,0.62),(-49.3,-100,0.62),(-62.3,25.1,0.58),(-62,22.8,0.68),(-97.2,27.1,0.66),
(-96.9,2.5,0.7),(-39.8,27.1,0.72),(-31.6,28.4,0.7),(18.1,28.4,0.68),(18.1,10.9,0.68),(-44.3,18.1,0.68),(-49.4,-17,0.68),(-58.6,-65.7,0.68),(-29,-81.7,0.7),(-12.3,-78,0.7),
(12.5,-89.5,0.72),(-17.3,-51,0.75),(-43.4,-41.3,0.66),(-48.6,-32.1,0.72),(-65.6,-37.3,0.66),(-37.2,-6.9,0.72),(-70.2,-10.8,0.65),(-51.2,-11.5,0.72),(-83.7,-10.8,0.76),(-83,-23.7,0.77),
(-34.5,100,0.8),(-82.3,-21.7,0.83),(26.1,0.3,0.83),(19.2,6.7,0.85),(-4.9,-11.1,0.8),(-31.6,1.1,0.76),(-36,1.1,0.78),(-43.4,-2.8,0.78),(-47.4,-1.9,0.76),(-46.9,-0.2,0.8),
(-62,-6.1,0.77),(-43.6,-11.5,0.78),(-48.8,17.6,0.83),(-31.2,17.9,0.83),(-33.3,11.9,0.85),(-54.9,-31.5,0.84),(-50.6,-39.6,0.82),(-58.9,-38.5,0.78),(-24,-14.2,0.84),(-33.4,-100,0.77),
(-50.6,-100,0.77),(-27.1,-100,0.8),(-46.9,-84.9,0.85),(-46,-78.2,0.85),(-94.3,-10.8,0.85),(-100,-17.9,0.85),
(-73.3,37.1,0.88),(-66.6,8,0.87),(-59.6,4.5,0.88),(-40.2,8,0.88),(-46,21.2,0.88),(-38.8,17.2,0.88),(-27.3,6.4,0.92),(34.5,4.8,0.86),(-12.3,-1.7,0.88),(-29,-0.6,0.88),
(-33.8,-6.4,0.88),(42.7,-11.4,0.93),(-42.9,-15.8,0.9),(-27.9,-13.3,0.88),(-63,-21.4,0.87),(-25.5,-24.2,0.92),(-11.3,-29.6,0.92),(42.7,-29.8,0.88),(-65.6,-30.7,0.88),(-34.8,-32,0.88),
(-45.8,-40.4,0.87),(-24.3,-47.3,0.88),(-48.2,-47.3,0.88),(-11.3,-97.8,0.88),(-64,-38.5,0.93),(-25.9,-38.5,0.88),(-59.6,-10.8,0.88),(-55.5,-10,0.88),(-62.7,-0.5,0.88),(-55.4,-8.2,0.86),
(-33.8,-6.1,0.88),(-28.6,-0.5,0.87),(-28.8,-5.4,0.89),(-27.7,-13.2,0.88),(-39.1,-2.1,0.89),(-33.2,11.7,0.84),
(-57.7,87.1,1),(-76.8,40.3,1),(-97,24,1),(-47.6,21.4,1),(-22.9,17.9,1),(-34.9,17,1),(-45.1,14.8,1),(-58.3,15.4,1),(-72.6,15.7,1),(-31.5,8.4,1),
(-27.1,6.4,0.95),(-48.3,8,1),(-54.9,8.9,1),(-59.3,8.2,1),(-63.8,8,1),(-59.4,4.4,0.93),(-70.7,0.2,1),(-65.5,1.4,1),(-64,0.5,1),(-63.6,0.2,1),
(-57.4,-1.8,1),(-54.9,-1.8,1),(-44.9,1.4,0.97),(-39.3,0.9,1),(-41.1,-1.2,1),(-29.4,-2.3,1),(-54.9,-5.9,1),(-51.3,-6.2,1),(-28.2,-6.4,1),(-25.5,-8.5,1),
(-47.4,-9.7,1),(-62.6,-11.3,1),(-62.9,-13.4,1),(-60.5,-13.4,1),(-58.5,-15.7,1),(-55.5,-11.5,1),(-54,-13,1),(-53.7,-17.9,1),(-34.1,-13.7,1),(-34.6,-14.4,1),
(-42.8,-15.7,0.95),(-39.1,-15.6,1),(-39.9,-19,1),(-41.1,-21.9,1),(-60.2,-21.4,1),(-49.6,-21.2,1),(-43.5,-26.7,1),(-34.8,-27.5,1),(-25.5,-24.2,0.97),(-24.6,-29.6,1),
(-25.1,-31.5,1),(-11.3,-29.7,0.95),(-59.5,-30.6,1),(-23.8,-37.5,1),(-61.5,-38.8,1),(-64.3,-38.6,0.93),(-54.8,-39.6,1),(-49.6,-47.1,1),(-68.4,-99.9,1),(-44.6,-71.2,1),
(34.1,-1.4,0.98),(2.9,-22.3,0.98),(-89.7,3.5,1),(-69.3,-100,0.98),(-29.3,-88.9,0.98),
]

X_TICKS = [-100, -50, 0, 50, 100]
Y_TICKS = [-100, -80, -60, -40, -20, 0, 20, 40, 60, 80, 100]
CBAR_TICKS = [0, 0.1, 0.2, 0.3, 0.4, 0.5, 0.6, 0.7, 0.8, 0.9, 1]
TITLES = ['F7 Search History in 2D', 'F8 Search History in 2D', 'F9 Search History in 2D', 'F10 Search History in 2D']

# matlab jet, the marker colours
JET = [[0, '#00007f'], [0.11, '#0000ff'], [0.125, '#0000ff'], [0.375, '#00ffff'], [0.5, '#7fff7f'],
       [0.625, '#ffff00'], [0.875, '#ff0000'], [1, '#7f0000']]
# the colorbar is drawn with the older parula, not jet
PARULA = [[0, '#3d26a8'], [0.1, '#4640e0'], [0.17, '#4755f5'], [0.2, '#415af8'], [0.3, '#2a8af0'], [0.4, '#1aa6dc'],
          [0.47, '#00b9c8'], [0.5, '#1ebeb4'], [0.6, '#4bcd7d'], [0.7, '#96c846'], [0.76, '#c8b928'], [0.8, '#e1aa32'],
          [0.83, '#ffb038'], [0.9, '#ffd228'], [1, '#fafa14']]

# axes boxes in pixels: left, right, top, bottom
BOXES = [(164, 1230, 74, 1033), (1773, 2839, 74, 1033), (164, 1230, 1282, 2240), (1773, 2839, 1282, 2240)]
CBAR_LEFT = [1292, 2901, 1292, 2901]

ALL_POINTS = [F7_POINTS, F8_POINTS, F9_POINTS, F10_POINTS]

fig = go.Figure()
axis_style = dict(
    showgrid=False, zeroline=False, showline=True, linecolor='#333333', linewidth=2,
    ticks='inside', ticklen=10, tickwidth=2, tickcolor='#333333', tickmode='array',
    range=[-100, 100], layer='below traces',
    tickfont=dict(family='Liberation Sans', size=35, color='#404040'),
)

for i, points in enumerate(ALL_POINTS):
    n = '' if i == 0 else str(i + 1)
    left, right, top, bottom = BOXES[i]
    # later (redder) points sit on top
    points = sorted(points, key=lambda p: p[2])
    fig.add_trace(go.Scatter(
        x=[p[0] for p in points], y=[p[1] for p in points], mode='markers', cliponaxis=False,
        xaxis='x' + n, yaxis='y' + n, showlegend=False,
        marker=dict(size=24.5, color=[p[2] for p in points], colorscale=JET, cmin=0, cmax=1, line=dict(width=0)),
    ))
    # empty trace only to carry the colorbar
    fig.add_trace(go.Scatter(
        x=[None, None], y=[None, None], mode='markers', xaxis='x' + n, yaxis='y' + n, showlegend=False,
        marker=dict(
            color=[0, 1], colorscale=PARULA, cmin=0, cmax=1, showscale=True,
            colorbar=dict(
                x=CBAR_LEFT[i] / W, xanchor='left', xpad=0, ypad=0, thicknessmode='pixels', thickness=56,
                y=1 - bottom / H, yanchor='bottom', lenmode='fraction', len=(bottom - top) / H,
                tickmode='array', tickvals=CBAR_TICKS, ticktext=['\u00a0' + str(t) for t in CBAR_TICKS],
                ticks='inside', ticklen=8, tickwidth=2, tickcolor='#333333',
                outlinecolor='#333333', outlinewidth=2,
                tickfont=dict(family='Liberation Sans', size=37, color='#404040'),
            ),
        ),
    ))
    fig.update_layout({
        'xaxis' + n: dict(
            axis_style, domain=[left / W, right / W], anchor='y' + n, tickvals=X_TICKS,
            ticktext=[str(t) for t in X_TICKS], ticklabelstandoff=9,
            title=dict(text='Dimension 1', font=dict(family='Liberation Sans', size=40, color='#404040'), standoff=22),
        ),
        'yaxis' + n: dict(
            axis_style, domain=[1 - bottom / H, 1 - top / H], anchor='x' + n, tickvals=Y_TICKS,
            ticktext=[str(t) for t in Y_TICKS], ticklabelstandoff=8,
            title=dict(text='Dimension 2', font=dict(family='Liberation Sans', size=40, color='#404040'), standoff=12),
        ),
    })
    fig.add_annotation(
        text='<b>' + TITLES[i] + '</b>', xref='paper', yref='paper', showarrow=False,
        x=(left + right) / 2 / W, y=1 - (top - 30) / H, yanchor='middle', xanchor='center',
        font=dict(family='Liberation Sans', size=41, color='#000000'),
    )

fig.update_layout(
    width=W, height=H, margin=dict(l=0, r=0, t=0, b=0, autoexpand=False),
    paper_bgcolor='white', plot_bgcolor='white',
)

fig.write_html(
    'out.html', config={'displayModeBar': False},
    post_script="document.body.style.margin='0';document.documentElement.style.overflow='hidden';",
)
